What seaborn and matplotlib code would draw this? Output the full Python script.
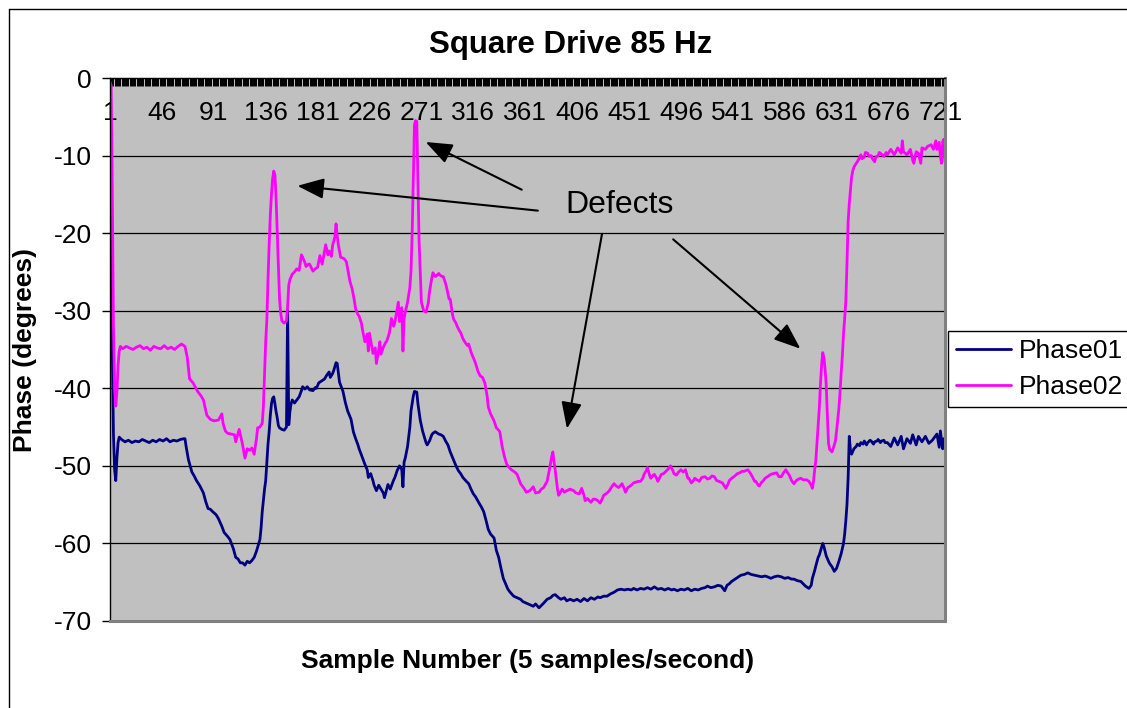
import matplotlib
matplotlib.use("Agg")
import matplotlib.pyplot as plt
from matplotlib.lines import Line2D
from matplotlib.ticker import MultipleLocator
import pandas as pd
import seaborn as sns

# ---------------------------------------------------------------- data
series_names = ["Phase01", "Phase02"]
series_colors = ["#000080", "#FF00FF"]

tick_samples = [1, 46, 91, 136, 181, 226, 271, 316, 361, 406,
                451, 496, 541, 586, 631, 676, 721]
phase_ticks = [-70, -60, -50, -40, -30, -20, -10, 0]

phase01_samples = [
    1, 2, 3, 4, 5, 6, 7, 8, 9, 11,
    14, 17, 20, 23, 26, 29, 32, 35, 38, 41,
    44, 47, 50, 53, 56, 59, 62, 65, 66, 67,
    69, 72, 74, 76, 79, 82, 84, 86, 88, 90,
    93, 95, 98, 100, 103, 105, 108, 110, 112, 114,
    116, 118, 120, 122, 124, 126, 128, 130, 131, 132,
    133, 134, 135, 136, 137, 138, 139, 140, 141, 142,
    143, 144, 145, 146, 147, 148, 150, 152, 154, 155,
    156, 157, 158, 159, 161, 163, 165, 167, 168, 170,
    172, 174, 177, 179, 180, 182, 184, 187, 189, 191,
    192, 194, 195, 197, 198, 199, 200, 202, 203, 205,
    207, 210, 212, 214, 216, 217, 219, 222, 224, 225,
    227, 229, 230, 232, 234, 236, 238, 239, 241, 242,
    244, 245, 247, 248, 250, 252, 254, 255, 256, 257,
    259, 261, 262, 264, 265, 267, 268, 270, 272, 273,
    275, 276, 278, 280, 281, 283, 286, 288, 290, 292,
    294, 296, 299, 301, 303, 305, 307, 310, 312, 314,
    316, 318, 321, 323, 325, 327, 329, 331, 334, 336,
    338, 340, 342, 344, 346, 348, 351, 354, 357, 359,
    362, 365, 368, 370, 373, 375, 377, 380, 383, 385,
    387, 390, 392, 395, 397, 400, 403, 406, 409, 412,
    415, 418, 421, 424, 426, 429, 432, 435, 438, 441,
    444, 447, 450, 453, 455, 458, 461, 464, 467, 470,
    473, 476, 479, 482, 485, 488, 490, 493, 496, 499,
    502, 505, 508, 511, 514, 517, 519, 522, 525, 528,
    531, 534, 536, 538, 540, 542, 545, 548, 551, 554,
    557, 560, 563, 566, 569, 571, 574, 577, 580, 583,
    586, 589, 592, 594, 597, 600, 602, 604, 607, 609,
    610, 612, 613, 615, 616, 618, 619, 620, 622, 624,
    625, 627, 629, 631, 633, 635, 637, 638, 639, 640,
    641, 642, 643, 644, 646, 648, 649, 651, 652, 654,
    655, 657, 658, 660, 661, 663, 664, 666, 667, 669,
    670, 672, 673, 675, 678, 681, 684, 687, 689, 692,
    695, 697, 700, 702, 705, 708, 711, 714, 717, 718,
    720, 721, 723, 724, 725,
]
phase01_values = [
    -3.0, -15.0, -35.0, -46.0, -50.5, -51.9, -49.0, -47.0, -46.3, -46.6,
    -46.9, -46.7, -47.0, -46.8, -46.9, -46.6, -46.8, -47.0, -46.7, -46.9,
    -46.6, -46.8, -46.5, -46.9, -46.7, -46.8, -46.6, -46.5, -46.5, -47.5,
    -49.2, -50.8, -51.3, -51.9, -52.6, -53.5, -54.6, -55.5, -55.6, -55.9,
    -56.3, -56.8, -57.8, -58.6, -59.1, -59.5, -60.7, -61.8, -62.0, -62.5,
    -62.5, -62.8, -62.3, -62.5, -62.2, -61.8, -61.0, -60.0, -59.5, -58.0,
    -55.9, -54.5, -53.0, -51.9, -49.5, -47.2, -45.6, -43.5, -42.0, -41.3,
    -41.1, -42.0, -43.0, -43.8, -44.8, -45.1, -45.3, -45.4, -45.0, -30.0,
    -44.7, -43.0, -42.0, -41.5, -41.9, -41.5, -41.1, -40.3, -39.8, -40.1,
    -39.8, -40.2, -40.3, -39.9, -40.0, -39.3, -39.1, -38.8, -38.3, -37.9,
    -38.6, -38.1, -37.7, -36.7, -36.8, -38.0, -39.2, -40.0, -40.4, -41.8,
    -42.9, -44.0, -45.6, -46.5, -47.3, -47.8, -48.6, -49.8, -50.5, -51.5,
    -51.0, -51.9, -52.5, -53.2, -52.5, -53.0, -53.5, -54.1, -53.0, -52.4,
    -53.0, -52.6, -51.8, -51.5, -50.6, -50.0, -50.5, -52.7, -49.5, -49.0,
    -47.5, -45.0, -42.9, -41.0, -40.4, -40.5, -42.0, -44.1, -45.5, -46.0,
    -47.0, -47.3, -46.8, -46.0, -45.8, -45.6, -45.9, -46.0, -46.2, -46.8,
    -47.3, -48.2, -49.3, -50.0, -50.6, -51.0, -51.5, -52.0, -52.3, -53.0,
    -53.6, -54.0, -54.8, -55.3, -55.9, -57.0, -58.2, -58.8, -59.3, -60.9,
    -61.8, -63.2, -64.5, -65.2, -65.9, -66.3, -66.8, -67.0, -67.2, -67.5,
    -67.7, -67.9, -68.1, -67.8, -68.3, -68.0, -67.7, -67.2, -67.0, -66.7,
    -66.6, -67.0, -67.2, -67.0, -67.4, -67.2, -67.4, -67.2, -67.5, -67.1,
    -67.4, -67.0, -67.2, -66.9, -67.0, -66.8, -66.8, -66.5, -66.3, -66.0,
    -65.9, -66.0, -65.9, -66.0, -65.8, -66.0, -65.8, -65.9, -65.7, -65.9,
    -65.6, -65.9, -65.8, -66.0, -65.8, -66.0, -65.9, -66.1, -65.9, -66.0,
    -65.8, -66.1, -65.9, -66.0, -65.8, -65.7, -65.5, -65.7, -65.6, -65.4,
    -65.5, -66.1, -65.4, -65.2, -64.9, -64.7, -64.4, -64.1, -64.0, -63.8,
    -64.0, -64.1, -64.2, -64.3, -64.2, -64.3, -64.5, -64.3, -64.2, -64.3,
    -64.5, -64.4, -64.6, -64.6, -64.8, -64.9, -65.2, -65.5, -65.8, -65.4,
    -64.5, -63.5, -62.9, -61.8, -61.5, -60.5, -60.0, -60.4, -61.6, -62.3,
    -62.6, -63.0, -63.6, -63.2, -62.3, -61.3, -60.0, -58.8, -57.1, -55.0,
    -51.6, -46.2, -48.0, -48.5, -47.8, -47.5, -47.2, -47.4, -47.0, -47.2,
    -46.8, -47.3, -47.0, -46.7, -46.8, -47.2, -46.9, -46.8, -46.6, -47.0,
    -46.8, -46.7, -47.0, -47.0, -47.5, -46.4, -47.3, -46.2, -47.8, -46.5,
    -47.1, -46.0, -47.3, -46.2, -46.9, -46.2, -47.1, -46.7, -46.1, -45.9,
    -47.6, -45.5, -47.8, -46.5, -47.2,
]

phase02_samples = [
    1, 2, 3, 4, 5, 6, 7, 8, 9, 10,
    12, 15, 18, 21, 24, 27, 30, 33, 36, 39,
    42, 45, 48, 51, 54, 57, 60, 63, 66, 68,
    70, 73, 77, 80, 82, 85, 88, 91, 95, 98,
    99, 101, 103, 106, 109, 110, 113, 116, 118, 120,
    122, 124, 126, 128, 129, 131, 133, 134, 135, 136,
    137, 138, 139, 140, 141, 142, 143, 144, 145, 146,
    147, 148, 149, 150, 152, 154, 155, 156, 157, 159,
    161, 163, 165, 167, 168, 170, 171, 173, 174, 177,
    179, 181, 183, 185, 188, 190, 191, 193, 194, 196,
    197, 198, 199, 201, 204, 206, 209, 211, 212, 213,
    214, 216, 217, 219, 220, 222, 224, 225, 226, 228,
    229, 231, 232, 234, 235, 236, 238, 240, 241, 243,
    244, 245, 247, 248, 250, 251, 252, 254, 255, 256,
    257, 259, 261, 262, 263, 264, 265, 266, 267, 268,
    269, 270, 271, 273, 275, 277, 278, 280, 281, 283,
    284, 286, 287, 289, 290, 292, 293, 295, 296, 298,
    299, 301, 302, 304, 305, 307, 309, 311, 312, 314,
    315, 317, 318, 320, 322, 324, 326, 328, 329, 331,
    334, 336, 338, 339, 341, 343, 345, 347, 349, 352,
    354, 357, 360, 362, 365, 368, 370, 373, 375, 377,
    380, 382, 384, 385, 386, 387, 389, 390, 392, 393,
    395, 397, 400, 403, 405, 408, 410, 412, 413, 415,
    418, 420, 422, 424, 426, 428, 429, 432, 434, 436,
    438, 440, 442, 445, 447, 448, 450, 453, 455, 457,
    459, 461, 463, 464, 466, 467, 469, 470, 472, 473,
    475, 476, 478, 479, 481, 483, 485, 487, 489, 490,
    492, 494, 496, 498, 500, 502, 503, 505, 506, 508,
    510, 512, 514, 517, 519, 521, 523, 525, 527, 529,
    532, 535, 537, 538, 540, 542, 545, 547, 549, 551,
    554, 556, 558, 560, 561, 563, 564, 566, 567, 569,
    571, 574, 576, 579, 581, 583, 585, 587, 589, 590,
    592, 594, 596, 598, 600, 602, 605, 607, 609, 610,
    611, 612, 613, 614, 615, 616, 617, 618, 619, 620,
    621, 622, 623, 624, 625, 627, 628, 630, 631, 632,
    633, 634, 635, 636, 637, 638, 639, 640, 641, 642,
    643, 644, 645, 646, 648, 649, 651, 652, 653, 655,
    656, 658, 659, 661, 662, 664, 665, 667, 668, 669,
    671, 672, 674, 675, 678, 681, 684, 687, 688, 689,
    692, 695, 697, 698, 700, 702, 704, 705, 708, 710,
    713, 715, 717, 718, 720, 721, 722, 723, 724, 725,
]
phase02_values = [
    -0.5, -1.0, -15.0, -32.0, -40.0, -42.3, -40.5, -37.0, -35.2, -34.6,
    -34.9, -34.6, -34.8, -35.0, -34.7, -34.5, -34.9, -34.7, -35.1, -34.6,
    -34.8, -34.9, -34.5, -34.9, -34.7, -35.0, -34.6, -34.3, -34.6, -36.0,
    -38.8, -39.3, -40.4, -41.0, -41.5, -43.5, -44.0, -44.2, -44.1, -43.3,
    -44.5, -45.5, -45.8, -45.9, -46.0, -46.9, -45.3, -47.3, -49.0, -47.8,
    -48.0, -47.7, -48.5, -46.5, -45.1, -45.0, -44.5, -42.4, -38.0, -34.0,
    -31.2, -26.0, -21.5, -17.7, -15.0, -13.0, -12.0, -12.5, -15.5, -19.9,
    -24.5, -28.5, -30.3, -31.3, -31.6, -31.3, -29.5, -26.7, -26.0, -25.3,
    -25.0, -24.6, -24.8, -22.8, -23.1, -23.8, -24.3, -24.0, -24.0, -24.9,
    -24.6, -24.4, -22.9, -24.0, -21.5, -22.8, -22.3, -23.0, -21.6, -20.5,
    -18.8, -20.4, -21.5, -23.1, -23.3, -23.7, -26.2, -27.2, -28.0, -28.8,
    -29.8, -30.5, -30.7, -31.6, -32.5, -34.0, -33.0, -35.2, -32.9, -34.6,
    -35.5, -34.8, -36.8, -35.0, -34.0, -35.6, -34.7, -34.1, -33.9, -33.0,
    -32.2, -31.0, -32.0, -31.5, -29.8, -28.9, -31.4, -29.6, -35.2, -31.0,
    -30.2, -28.9, -27.0, -24.9, -20.0, -13.0, -6.0, -5.5, -5.6, -13.5,
    -21.0, -25.0, -28.9, -30.0, -30.2, -29.0, -27.6, -25.8, -25.1, -25.6,
    -25.5, -25.2, -25.4, -25.6, -25.6, -26.5, -27.1, -28.5, -28.5, -30.5,
    -31.1, -31.6, -32.0, -32.6, -32.8, -33.6, -34.1, -34.5, -34.3, -35.3,
    -35.7, -36.4, -36.8, -37.8, -38.4, -38.6, -39.3, -41.0, -42.4, -43.3,
    -44.2, -45.1, -45.4, -45.6, -47.5, -48.8, -49.8, -50.2, -50.5, -50.8,
    -51.1, -52.3, -52.9, -53.4, -53.2, -52.7, -53.5, -53.4, -53.0, -52.8,
    -52.0, -50.5, -48.8, -48.2, -49.5, -50.5, -53.0, -53.8, -53.3, -53.0,
    -53.4, -53.2, -53.0, -53.2, -53.5, -53.6, -52.9, -53.8, -54.5, -54.2,
    -54.7, -54.3, -54.3, -54.5, -54.8, -54.2, -53.8, -53.5, -53.2, -52.7,
    -52.3, -52.6, -52.8, -52.3, -53.0, -53.4, -52.8, -52.5, -52.2, -52.1,
    -52.0, -52.0, -51.6, -51.1, -50.6, -50.2, -51.3, -51.6, -51.2, -51.1,
    -51.6, -52.0, -51.4, -51.1, -51.0, -50.7, -50.4, -50.0, -50.6, -51.0,
    -51.2, -50.8, -50.5, -50.8, -50.5, -51.6, -51.6, -52.2, -52.1, -51.6,
    -51.8, -52.0, -51.5, -51.4, -51.7, -51.6, -51.3, -51.4, -51.9, -52.0,
    -52.2, -52.9, -52.3, -51.9, -51.6, -51.4, -51.0, -50.9, -50.7, -50.7,
    -50.5, -50.9, -51.4, -52.0, -52.0, -52.5, -52.6, -52.1, -52.0, -51.6,
    -51.4, -51.1, -51.0, -50.9, -51.4, -51.4, -50.9, -50.5, -51.0, -51.2,
    -51.9, -52.3, -51.9, -51.7, -51.6, -51.8, -51.8, -52.0, -52.5, -52.9,
    -52.0, -50.5, -49.3, -47.0, -44.5, -42.6, -39.5, -37.0, -35.4, -36.0,
    -37.5, -39.5, -43.5, -47.1, -47.9, -48.2, -47.8, -46.8, -45.5, -44.0,
    -42.6, -40.5, -38.0, -35.8, -33.0, -31.0, -28.8, -24.0, -18.5, -16.2,
    -14.5, -12.8, -12.0, -11.5, -11.0, -10.8, -10.2, -9.9, -10.4, -10.2,
    -9.6, -9.7, -10.1, -10.0, -10.4, -10.8, -10.2, -10.0, -9.6, -9.7,
    -10.0, -10.1, -9.6, -9.9, -9.2, -9.9, -9.0, -9.7, -8.1, -9.5,
    -9.9, -9.2, -10.6, -11.0, -9.5, -9.7, -11.0, -9.0, -9.2, -8.8,
    -8.6, -9.2, -8.1, -9.2, -8.3, -10.1, -11.0, -8.2, -7.9, -10.8,
]

assert len(phase01_samples) == len(phase01_values)
assert len(phase02_samples) == len(phase02_values)

df = pd.concat([
    pd.DataFrame({"Sample": phase01_samples, "Phase": phase01_values,
                  "Series": series_names[0]}),
    pd.DataFrame({"Sample": phase02_samples, "Phase": phase02_values,
                  "Series": series_names[1]}),
], ignore_index=True)

# ---------------------------------------------------------------- style
sns.set_style("white")
plt.rcParams["font.family"] = ["Liberation Sans", "DejaVu Sans"]
plt.rcParams.update({
    "text.color": "black",
    "axes.labelcolor": "black",
    "xtick.color": "black",
    "ytick.color": "black",
})

W, H = 1127, 708
fig = plt.figure(figsize=(W / 100, H / 100), dpi=100)
fig.patch.set_facecolor("white")
ax = fig.add_axes([110 / W, 1 - 621 / H, (945 - 110) / W, (621 - 78) / H])
ax.set_facecolor("#C0C0C0")

palette = dict(zip(series_names, series_colors))
sns.lineplot(data=df, x="Sample", y="Phase", hue="Series", palette=palette,
             estimator=None, sort=False, linewidth=2.0, legend=False, ax=ax)

ax.set_xlim(1, 725)
ax.set_ylim(-70, 0)
ax.set_yticks(phase_ticks)
ax.set_yticklabels([str(t) for t in phase_ticks])
ax.set_xticks(tick_samples)
ax.set_xticklabels([str(t) for t in tick_samples])
ax.xaxis.set_minor_locator(MultipleLocator(1))

ax.tick_params(axis="x", which="both", bottom=False, labelbottom=False,
               top=True, labeltop=True, direction="in", length=5.5,
               width=0.7, color="black", labelcolor="black", pad=-34,
               labelsize=19)
ax.tick_params(axis="y", which="major", left=True, direction="out",
               length=6, width=1, color="black", labelcolor="black", pad=7,
               labelsize=19)

ax.grid(False)
ax.yaxis.grid(True, color="black", linewidth=0.9)
ax.set_axisbelow(True)

for side in ("left", "top"):
    ax.spines[side].set_color("black")
    ax.spines[side].set_linewidth(1.0)
for side in ("right", "bottom"):
    ax.spines[side].set_color("#808080")
    ax.spines[side].set_linewidth(2.2)

ax.set_xlabel("Sample Number (5 samples/second)", fontsize=19,
              fontweight="bold", labelpad=20, color="black")
ax.set_ylabel("Phase (degrees)", fontsize=19, fontweight="bold",
              labelpad=12, color="black")
fig.text(571 / W, 1 - 45 / H, "Square Drive 85 Hz", ha="center",
         va="center", fontsize=22.5, fontweight="bold", color="black")

# callout for the defect signatures
ax.text(443, -16.4, "Defects", ha="center", va="center", fontsize=23,
        color="black")
arrow_style = dict(arrowstyle="-|>,head_length=0.9,head_width=0.35",
                   color="black", lw=1.5, mutation_scale=18,
                   shrinkA=0, shrinkB=0)
for tail, tip in [((358, -14.4), (274.7, -8.25)),
                  ((372, -17.1), (163.5, -13.9)),
                  ((427.6, -20.1), (397.2, -45.2)),
                  ((489.3, -20.8), (599.6, -34.9))]:
    ax.annotate("", xy=tip, xytext=tail, arrowprops=arrow_style)

handles = [Line2D([0], [0], color=c, lw=2.0) for c in series_colors]
leg = fig.legend(handles, series_names, loc="upper left",
                 bbox_to_anchor=(948 / W, 1 - 331 / H), borderaxespad=0,
                 fontsize=19, frameon=True, fancybox=False,
                 edgecolor="black", framealpha=1, borderpad=0.3,
                 handlelength=2.1, handletextpad=0.3, labelspacing=0.45)
leg.get_frame().set_linewidth(1.0)
for t in leg.get_texts():
    t.set_color("black")

# chart-area frame
fig.add_artist(Line2D([8.5 / W, 8.5 / W], [0, 1 - 8.5 / H],
                      transform=fig.transFigure, color="black", lw=1))
fig.add_artist(Line2D([8.5 / W, 1], [1 - 8.5 / H, 1 - 8.5 / H],
                      transform=fig.transFigure, color="black", lw=1))

fig.savefig("out.png", dpi=100)
